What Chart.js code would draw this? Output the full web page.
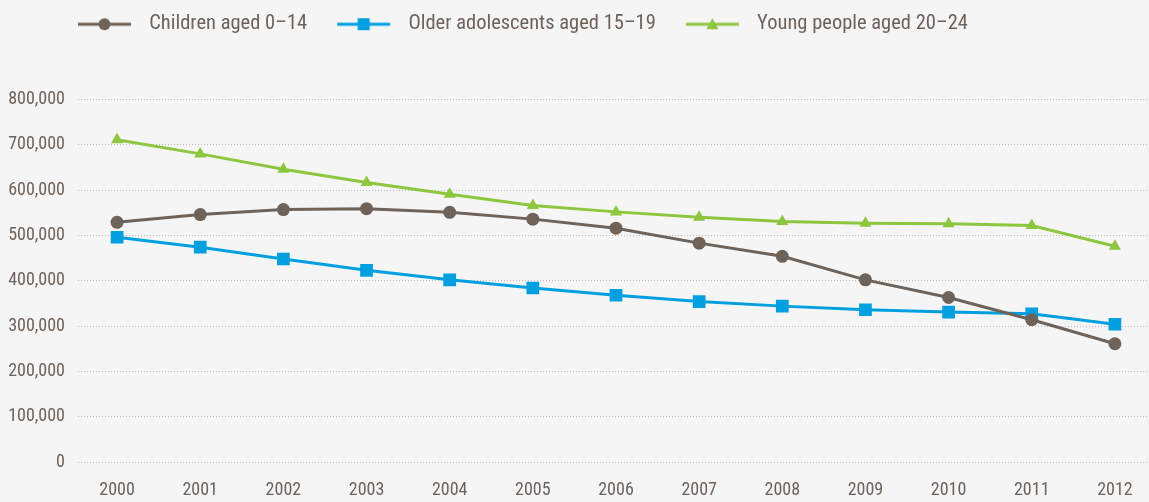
<!DOCTYPE html>
<html>
<head>
<meta charset="utf-8">
<script src="https://cdn.jsdelivr.net/npm/chart.js@4/dist/chart.umd.min.js"></script>
<style>
  html, body { margin: 0; padding: 0; background: #f5f5f5; }
  #wrap { width: 1149px; height: 502px; }
</style>
</head>
<body>
<div id="wrap"><canvas id="popChart"></canvas></div>
<script>
const years = [2000, 2001, 2002, 2003, 2004, 2005, 2006, 2007, 2008, 2009, 2010, 2011, 2012];
const children = [529000, 546000, 557000, 559000, 551000, 536000, 516000, 483000, 454000, 402000, 363000, 314000, 261000];
const olderAdolescents = [496000, 474000, 448000, 423000, 402000, 384000, 368000, 354000, 344000, 336000, 331000, 327000, 304000];
const youngPeople = [711000, 680000, 646000, 617000, 591000, 566000, 552000, 540000, 531000, 527000, 526000, 522000, 476000];
const seriesNames = ['Children aged 0–14', 'Older adolescents aged 15–19', 'Young people aged 20–24'];
const yTicks = [0, 100000, 200000, 300000, 400000, 500000, 600000, 700000, 800000];

const FONT = "'Roboto Condensed', 'Liberation Sans Narrow', sans-serif";
const TEXT = '#6e625a';
const BROWN = '#6e6259';
const BLUE = '#00a0e0';
const GREEN = '#8dc63f';

// little line + marker pictures for the legend
function swatch(color, style) {
  const c = document.createElement('canvas');
  c.width = 81; c.height = 16;
  const ctx = c.getContext('2d');
  ctx.strokeStyle = color;
  ctx.fillStyle = color;
  ctx.lineWidth = 3;
  ctx.beginPath(); ctx.moveTo(20, 8); ctx.lineTo(73, 8); ctx.stroke();
  ctx.beginPath();
  if (style === 'circle') ctx.arc(46.5, 8, 6, 0, Math.PI * 2);
  else if (style === 'rect') ctx.rect(40.5, 2, 12, 12);
  else { ctx.moveTo(46.5, 2); ctx.lineTo(52.5, 13); ctx.lineTo(40.5, 13); ctx.closePath(); }
  ctx.fill();
  return c;
}
const swatches = [swatch(BROWN, 'circle'), swatch(BLUE, 'rect'), swatch(GREEN, 'triangle')];

const legendShift = {
  id: 'legendShift',
  afterLayout(chart) {
    chart.legend.left += 48;
    chart.legend.top += 4;
  }
};

const toPoints = vals => years.map((y, i) => ({ x: y, y: vals[i] }));

new Chart(document.getElementById('popChart'), {
  type: 'line',
  data: {
    datasets: [
      { label: seriesNames[0], data: toPoints(children), borderColor: BROWN, backgroundColor: BROWN,
        pointStyle: 'circle', pointRadius: 6.5, borderWidth: 3, pointBorderWidth: 0 },
      { label: seriesNames[1], data: toPoints(olderAdolescents), borderColor: BLUE, backgroundColor: BLUE,
        pointStyle: 'rect', pointRadius: 9, borderWidth: 3, pointBorderWidth: 0 },
      { label: seriesNames[2], data: toPoints(youngPeople), borderColor: GREEN, backgroundColor: GREEN,
        pointStyle: 'triangle', pointRadius: 7, borderWidth: 3, pointBorderWidth: 0 }
    ]
  },
  options: {
    responsive: true,
    maintainAspectRatio: false,
    animation: false,
    layout: { padding: 0, autoPadding: false },
    plugins: {
      legend: {
        position: 'top',
        align: 'start',
        weight: 3000,
        labels: {
          usePointStyle: true,
          pointStyleWidth: 81,
          padding: 10,
          color: TEXT,
          font: { family: FONT, size: 20.5 },
          generateLabels: chart => chart.data.datasets.map((ds, i) => ({
            text: ds.label,
            pointStyle: swatches[i],
            fillStyle: ds.borderColor,
            strokeStyle: ds.borderColor,
            lineWidth: 0,
            fontColor: TEXT,
            hidden: !chart.isDatasetVisible(i),
            datasetIndex: i
          }))
        }
      },
      title: {
        display: true,
        text: '',
        font: { size: 10, lineHeight: 1 },
        padding: { top: 0, bottom: 49 }
      },
      tooltip: { enabled: false }
    },
    scales: {
      x: {
        type: 'linear',
        min: 1999.53,
        max: 2012.41,
        afterFit: s => { s.height = 40; s.paddingLeft = 0; s.paddingRight = 0; },
        grid: { display: false, drawTicks: false },
        border: { display: false },
        ticks: {
          stepSize: 1,
          includeBounds: false,
          padding: 18,
          color: TEXT,
          font: { family: FONT, size: 18 },
          callback: v => String(v)
        }
      },
      y: {
        min: yTicks[0],
        max: yTicks[yTicks.length - 1],
        afterFit: s => { s.width = 78; },
        afterBuildTicks: s => { s.ticks = yTicks.map(v => ({ value: v })); },
        grid: { color: '#bcbcbc', lineWidth: 1, drawTicks: false },
        border: { display: false, dash: [1, 2] },
        ticks: {
          padding: 13,
          color: TEXT,
          font: { family: FONT, size: 18 },
          callback: v => v.toLocaleString('en-US')
        }
      }
    }
  },
  plugins: [legendShift]
});
</script>
</body>
</html>
